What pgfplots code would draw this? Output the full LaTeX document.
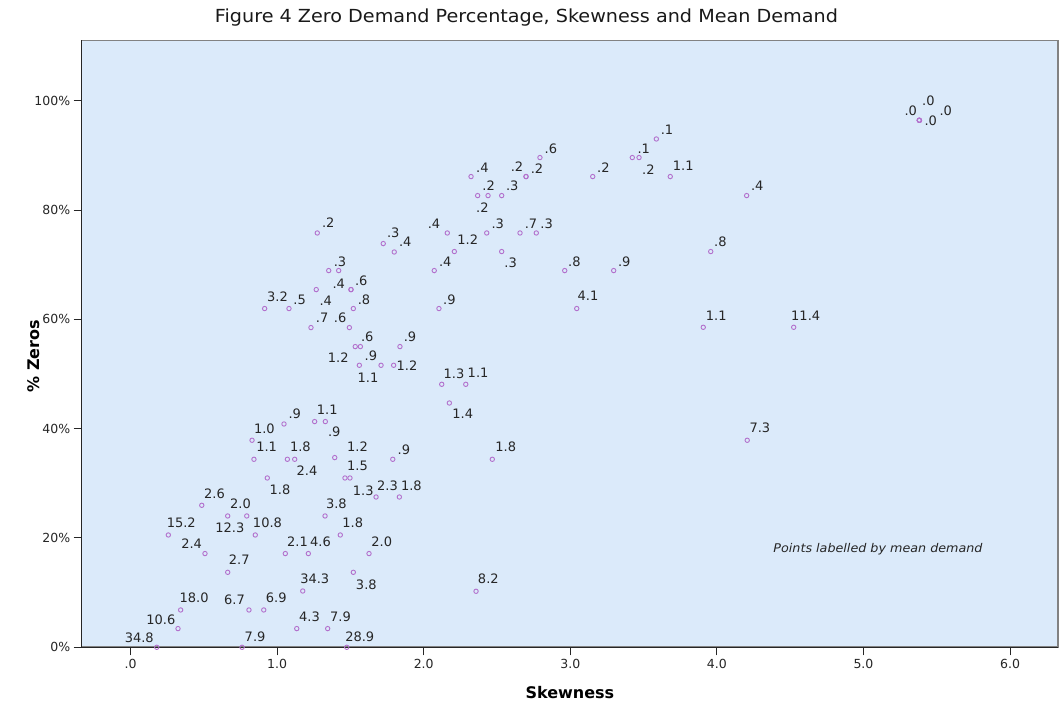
\documentclass[border=0pt]{standalone}
\usepackage{fontspec}
\setmainfont{DejaVu Sans}
\usepackage{graphicx}
\usepackage{pgfplots}
\pgfplotsset{compat=1.18}
\definecolor{bgc}{RGB}{219,234,250}
\definecolor{markc}{RGB}{178,112,204}
\definecolor{framec}{RGB}{130,130,130}
\begin{document}
\begin{tikzpicture}
\path[use as bounding box] (-81.7pt,-60.7pt) rectangle (978.3pt,647.3pt);
\begin{axis}[
  name=ax, at={(0pt,0pt)}, anchor=south west,
  scale only axis, width=976.3pt, height=606.8pt,
  xmin=-0.333, xmax=6.327, ymin=0, ymax=111.03,
  axis x line*=bottom, axis y line*=left,
  axis line style={color=black!85, line width=1pt},
  axis background/.style={fill=bgc, draw=framec, line width=1.6pt},
  tick align=outside, major tick length=8pt,
  tick style={color=black!85, line width=1pt},
  xtick={0,1,2,3,4,5,6},
  xticklabels={.0,1.0,2.0,3.0,4.0,5.0,6.0},
  ytick={0,20,40,60,80,100},
  yticklabels={0\%,20\%,40\%,60\%,80\%,100\%},
  /pgf/number format/assume math mode=true,
  tick label style={font=\fontsize{12.5}{14}\selectfont, text=black!85},
  xlabel={\textbf{Skewness}},
  ylabel={\textbf{\% Zeros}},
  xlabel style={font=\fontsize{16}{18}\selectfont, at={(axis description cs:0.5,-0.0753)}, anchor=center},
  ylabel style={font=\fontsize{16}{18}\selectfont, at={(axis description cs:-0.0497,0.48)}, anchor=center, rotate=0},
  clip=false,
]
\addplot[only marks, mark=o, mark size=2.2pt, color=markc, line width=0.9pt,
  nodes near coords, point meta=explicit symbolic,
  visualization depends on={value \thisrow{dx} \as \dx},
  visualization depends on={value \thisrow{dy} \as \dy},
  every node near coord/.append style={anchor=center, xshift=\dx pt, yshift=\dy pt,
     font=\fontsize{13}{15}\selectfont, text=black!85, inner sep=0pt}]
table[x=x, y=y, meta=lab] {
x y dx dy lab
1.274 75.81 11 10 .2
1.724 73.87 10 10.6 .3
1.799 72.33 11 10.7 .4
2.323 86.13 11.3 8.6 .4
2.368 82.65 11 10 .2
2.439 82.65 -5.7 -12 .2
2.532 82.65 10.6 10 .3
2.698 86.13 -9 9.6 .2
2.698 86.13 11 8 .2
2.793 89.61 11 9 .6
3.153 86.13 10.6 8.6 .2
3.423 89.61 11.4 9 .1
3.469 89.61 9.3 -12 .2
3.587 93.01 10.7 9.4 .1
3.682 86.13 13 11.3 1.1
4.203 82.65 10.6 10 .4
2.161 75.81 -13.3 9.4 .4
2.209 72.41 13.4 12 1.2
2.072 68.93 11 9.3 .4
2.430 75.81 11 9.4 .3
2.532 72.41 9 -11.4 .3
2.657 75.81 11 9.4 .7
2.768 75.81 10.4 9.4 .3
2.962 68.93 9.6 9.3 .8
3.296 68.93 10.6 9.3 .9
3.958 72.41 9.6 9.6 .8
5.381 96.43 -8.6 10 .0
5.381 96.43 9 19.3 .0
5.381 96.43 26.4 10 .0
5.381 96.43 11.4 0 .0
3.907 58.55 13 12 1.1
4.524 58.55 12 12 11.4
1.352 68.93 11.3 8.6 .3
1.267 65.45 9.5 -10.7 .4
1.504 65.45 10.3 9.3 .6
1.504 65.45 -12.2 6 .4
0.915 61.98 12.8 11.6 3.2
1.081 61.98 10.7 9 .5
1.520 61.98 10.7 9 .8
1.231 58.50 11.2 9.6 .7
1.493 58.50 -9.3 9.6 .6
1.533 55.02 -17 -11 1.2
1.568 55.02 6.9 9.6 .6
1.561 51.60 8.7 -12.3 1.1
1.709 51.60 -10.2 10 .9
1.795 51.60 13.3 0 1.2
1.838 55.02 10 9.6 .9
2.104 61.98 10.5 9 .9
2.123 48.12 12.3 10.7 1.3
2.287 48.12 12.3 11.7 1.1
2.175 44.70 13.4 -10.6 1.4
1.047 40.86 10.8 10.4 .9
1.256 41.30 12.6 12 1.1
1.329 41.30 8.9 -10.4 .9
0.829 37.88 12.3 11.7 1.0
0.842 34.40 12.7 12.3 1.1
1.070 34.40 13 12.3 1.8
1.120 34.40 12.3 -11.7 2.4
1.393 34.71 22.8 11.3 1.2
1.789 34.40 11.1 9.7 .9
0.933 30.98 12.7 -11.6 1.8
1.463 30.98 12.5 11.7 1.5
1.497 30.98 13.3 -12.3 1.3
1.675 27.50 11.5 11.7 2.3
1.834 27.50 12 11.7 1.8
0.486 25.98 12.8 11.7 2.6
0.663 24.03 12.8 12.4 2.0
0.793 24.03 -16.9 -11.6 12.3
0.851 20.55 12.2 12 10.8
1.327 24.03 11.3 12.4 3.8
0.258 20.55 12.9 12 15.2
0.508 17.15 -13.3 10 2.4
1.056 17.15 12.2 11.6 2.1
1.213 17.15 12.2 11.6 4.6
1.431 20.55 12.4 12 1.8
1.627 17.15 12.7 11.6 2.0
0.663 13.72 11.5 12.7 2.7
1.175 10.30 12 12.4 34.3
1.520 13.72 13 -12 3.8
2.357 10.25 12.3 12.7 8.2
0.342 6.83 13.5 12.4 18.0
0.808 6.83 -14.5 9.7 6.7
0.909 6.83 12.5 12.4 6.9
0.324 3.42 -17.2 9 10.6
1.134 3.42 12.8 11.6 4.3
1.345 3.42 12.8 11.6 7.9
0.179 0 -17.5 10 34.8
0.761 0 13 11 7.9
1.475 0 13 11 28.9
3.044 61.98 11.3 12.3 4.1
2.468 34.40 13.5 12.3 1.8
4.207 37.88 12.7 12.3 7.3
};
\addplot[only marks, mark=o, mark size=2.2pt, color=markc, line width=0.9pt]
table[x=x, y=y] {
x y
1.420 68.93
};
\node[font=\fontsize{12}{14}\itshape, text=black!85, inner sep=0pt] at (axis cs:5.099,17.93)
  {\resizebox{209pt}{\height}{Points labelled by mean demand}};
\end{axis}
\node[font=\fontsize{18}{20}\selectfont, text=black!90, inner sep=0pt] at (444.8pt,629.3pt)
  {\resizebox{623pt}{\height}{Figure 4 Zero Demand Percentage, Skewness and Mean Demand}};
\end{tikzpicture}
\end{document}
